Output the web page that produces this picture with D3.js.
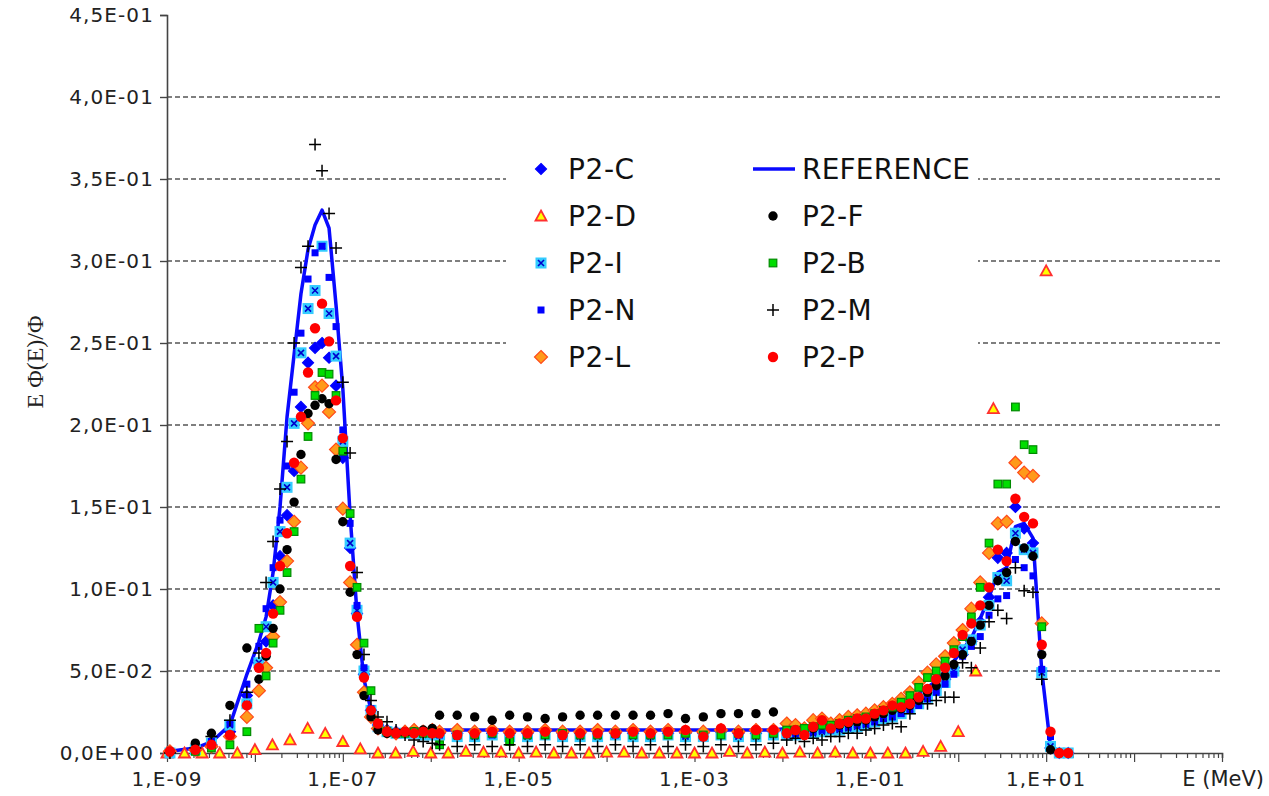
<!DOCTYPE html>
<html>
<head>
<meta charset="utf-8">
<script src="https://cdn.jsdelivr.net/npm/d3@7"></script>
<style>
  body { margin: 0; background: #fff; }
  svg { display: block; }
</style>
</head>
<body>
<svg id="chart" width="1269" height="796"></svg>
<script>
// energy grid (MeV) shared by most participants: thermal / epithermal / fast parts
var energyGrid = [
  1.08e-9, 2.1e-9, 3.2e-9, 5.2e-9, 8.1e-9, 1.11e-8, 1.34e-8, 1.61e-8, 1.93e-8, 2.32e-8,
  2.79e-8, 3.34e-8, 4.02e-8, 4.83e-8, 5.80e-8, 6.97e-8, 8.37e-8, 1.0e-7, 1.21e-7, 1.45e-7,
  1.74e-7, 2.09e-7, 2.51e-7, 3.18e-7, 4.03e-7, 5.1e-7, 6.46e-7, 8.2e-7, 1.04e-6,
  1.26e-6, 2.0e-6, 3.16e-6, 5.0e-6, 7.9e-6, 1.26e-5, 2.0e-5, 3.16e-5, 5.0e-5, 7.9e-5,
  1.26e-4, 2.0e-4, 3.16e-4, 5.0e-4, 7.9e-4, 1.26e-3, 2.0e-3, 3.16e-3, 5.0e-3, 7.9e-3,
  1.12e-2, 1.41e-2, 1.78e-2, 2.24e-2, 2.82e-2, 3.55e-2, 4.47e-2, 5.62e-2, 7.08e-2, 8.91e-2,
  0.112, 0.141, 0.178, 0.224, 0.282, 0.355, 0.447, 0.562, 0.708, 0.891,
  1.12, 1.41, 1.78, 2.24, 2.82, 3.55, 4.47, 5.62, 7.08, 8.91, 11.2, 14.1, 17.8
];
// coarser grid used by P2-D
var energyGridD = [
  1.0e-9, 1.58e-9, 2.51e-9, 3.98e-9, 6.31e-9, 1.0e-8, 1.58e-8, 2.51e-8, 3.98e-8, 6.31e-8,
  1.0e-7, 1.58e-7, 2.51e-7, 3.98e-7, 6.31e-7, 1.0e-6, 1.58e-6, 2.51e-6, 3.98e-6, 6.31e-6,
  1.0e-5, 1.58e-5, 2.51e-5, 3.98e-5, 6.31e-5, 1.0e-4, 1.58e-4, 2.51e-4, 3.98e-4, 6.31e-4,
  1.0e-3, 1.58e-3, 2.51e-3, 3.98e-3, 6.31e-3, 1.0e-2, 1.58e-2, 2.51e-2, 3.98e-2, 6.31e-2,
  0.1, 0.158, 0.251, 0.398, 0.631, 1.0, 1.58, 2.51, 3.98, 6.31, 10.0
];

var valuesRef = [
  0.001, 0.003, 0.0067, 0.017, 0.048, 0.068, 0.083, 0.11, 0.15, 0.205, 0.243, 0.28, 0.307, 0.322, 0.331,
  0.32, 0.273, 0.222, 0.145, 0.085, 0.045, 0.026, 0.018, 0.014, 0.0135, 0.0135, 0.014, 0.014, 0.014,
  0.014, 0.014, 0.014, 0.014, 0.014, 0.014, 0.014, 0.014, 0.014, 0.014,
  0.014, 0.014, 0.014, 0.014, 0.014, 0.014, 0.014, 0.014, 0.014, 0.014,
  0.015, 0.015, 0.016, 0.016, 0.017, 0.018, 0.019, 0.02, 0.021, 0.022, 0.024, 0.026, 0.028, 0.03, 0.033,
  0.036, 0.04, 0.044, 0.05, 0.056, 0.063, 0.07, 0.082, 0.095, 0.11, 0.113, 0.138, 0.14, 0.131, 0.05,
  0.004, 0, null
];
var valuesC = [
  0.001, 0.002, 0.005, 0.013, 0.035, 0.055, 0.068, 0.09, 0.12, 0.145, 0.172, 0.211, 0.238, 0.247, 0.25,
  0.241, 0.224, 0.18, 0.125, 0.085, 0.048, 0.026, 0.017, 0.014, 0.013, 0.013, 0.013, 0.012, 0.013,
  0.012, 0.012, 0.013, 0.012, 0.012, 0.012, 0.013, 0.012, 0.012, 0.013,
  0.012, 0.012, 0.013, 0.012, 0.012, 0.012, 0.013, 0.012, 0.012, 0.013,
  0.013, 0.013, 0.014, 0.014, 0.015, 0.016, 0.017, 0.018, 0.019, 0.02, 0.021, 0.023, 0.025, 0.027, 0.029,
  0.032, 0.036, 0.04, 0.045, 0.052, 0.06, 0.068, 0.08, 0.095, 0.119, 0.122, 0.15, 0.137, 0.128, 0.05,
  0.003, 0, 0
];
var valuesD = [
  0, 0, 0, 0, 0, 0.002, 0.005, 0.008, 0.015, 0.012,
  0.007, 0.0025, 0, 0, 0.001, 0, 0, 0.001, 0.0005, 0.0005,
  0, 0.0005, 0, 0, 0, 0.0005, 0.0005, 0, 0, 0,
  0, 0, 0.001, 0, 0.0005, 0, 0.0005, 0, 0.0005, 0,
  0, 0, 0, 0.001, 0.004, 0.013, 0.05, 0.21, null, null, 0.294
];
var valuesI = [
  0.0, 0.002, 0.006, 0.017, 0.03, 0.055, 0.077, 0.104, 0.135, 0.162, 0.201, 0.244, 0.271, 0.282, 0.309,
  0.268, 0.242, 0.19, 0.128, 0.087, 0.05, 0.026, 0.016, 0.013, 0.012, 0.012, 0.012, 0.011, 0.011,
  0.011, 0.010, 0.010, 0.011, 0.010, 0.010, 0.011, 0.010, 0.010, 0.010,
  0.011, 0.010, 0.010, 0.011, 0.010, 0.010, 0.011, 0.010, 0.010, 0.011,
  0.011, 0.011, 0.012, 0.012, 0.013, 0.014, 0.014, 0.015, 0.016, 0.017, 0.019, 0.021, 0.022, 0.024, 0.027,
  0.03, 0.034, 0.038, 0.043, 0.05, 0.063, 0.069, 0.078, 0.09, 0.107, 0.105, 0.134, 0.124, 0.122, 0.049,
  0.004, 0.0, 0.0
];
var valuesN = [
  0.001, 0.003, 0.007, 0.018, 0.042, 0.065, 0.088, 0.113, 0.142, 0.175, 0.22, 0.256, 0.289, 0.305, 0.309,
  0.29, 0.26, 0.197, 0.14, 0.09, 0.052, 0.027, 0.017, 0.014, 0.013, 0.013, 0.012, 0.012, 0.012,
  0.011, 0.011, 0.012, 0.011, 0.011, 0.012, 0.011, 0.011, 0.011, 0.012,
  0.011, 0.011, 0.012, 0.011, 0.011, 0.011, 0.012, 0.011, 0.011, 0.012,
  0.012, 0.012, 0.013, 0.013, 0.014, 0.014, 0.015, 0.016, 0.017, 0.018, 0.019, 0.021, 0.022, 0.024, 0.026,
  0.029, 0.033, 0.037, 0.042, 0.048, 0.059, 0.065, 0.071, 0.084, 0.094, 0.096, 0.118, 0.113, 0.108, 0.051,
  0.01, 0.0, null
];
var valuesL = [
  0.001, 0.002, 0.004, 0.01, 0.022, 0.038, 0.052, 0.071, 0.092, 0.117, 0.141, 0.174, 0.201, 0.223, 0.224,
  0.208, 0.185, 0.149, 0.104, 0.066, 0.037, 0.022, 0.015, 0.013, 0.012, 0.013, 0.014, 0.013, 0.014,
  0.013, 0.014, 0.013, 0.014, 0.013, 0.013, 0.014, 0.013, 0.013, 0.014,
  0.013, 0.014, 0.013, 0.014, 0.013, 0.013, 0.014, 0.013, 0.014, 0.014,
  0.018, 0.017, 0.015, 0.02, 0.021, 0.018, 0.02, 0.022, 0.023, 0.024, 0.026, 0.028, 0.03, 0.033, 0.037,
  0.043, 0.049, 0.054, 0.059, 0.067, 0.075, 0.088, 0.104, 0.122, 0.14, 0.141, 0.177, 0.171, 0.169, 0.079,
  null, null, null
];
var valuesF = [
  0.001, 0.006, 0.012, 0.029, 0.064, 0.045, 0.059, 0.076, 0.1, 0.124, 0.153, 0.182, 0.207, 0.212, 0.216,
  0.213, 0.179, 0.141, 0.098, 0.06, 0.035, 0.022, 0.014, 0.012, 0.012, 0.013, 0.013, 0.014, 0.015,
  0.023, 0.023, 0.022, 0.020, 0.023, 0.022, 0.021, 0.022, 0.023, 0.023,
  0.023, 0.023, 0.023, 0.024, 0.021, 0.022, 0.024, 0.024, 0.024, 0.025,
  0.013, 0.014, 0.012, 0.015, 0.017, 0.015, 0.017, 0.018, 0.019, 0.02, 0.022, 0.024, 0.026, 0.027, 0.029,
  0.032, 0.037, 0.041, 0.047, 0.054, 0.06, 0.068, 0.078, 0.09, 0.105, 0.11, 0.129, 0.125, 0.12, 0.06,
  0.002, 0, null
];
var valuesB = [
  null, 0.001, 0.003, 0.005, 0.013, 0.076, 0.047, 0.067, 0.087, 0.11, 0.135, 0.167, 0.193, 0.218, 0.232,
  0.231, 0.218, 0.184, 0.146, 0.101, 0.067, 0.038, 0.018, 0.013, 0.012, 0.012, 0.013, 0.012, 0.012,
  0.005, 0.011, 0.011, 0.012, 0.007, 0.011, 0.011, 0.012, 0.011, 0.011,
  0.012, 0.011, 0.011, 0.011, 0.012, 0.011, 0.011, 0.012, 0.011, 0.012,
  0.014, 0.014, 0.015, 0.016, 0.017, 0.017, 0.018, 0.02, 0.021, 0.022, 0.024, 0.026, 0.028, 0.031, 0.035,
  0.04, 0.046, 0.05, 0.056, 0.063, 0.071, 0.083, 0.101, 0.128, 0.164, 0.164, 0.211, 0.188, 0.185, 0.077,
  null, null, null
];
var valuesM = [
  0.0, 0.003, 0.01, 0.02, 0.037, 0.061, 0.104, 0.129, 0.161, 0.19, 0.25, 0.296, 0.309, 0.371, 0.355,
  0.329, 0.308, 0.226, 0.183, 0.11, 0.06, 0.032, 0.022, 0.019, 0.014, 0.011, 0.008, 0.007, 0.006,
  0.005, 0.004, 0.005, 0.004, 0.005, 0.004, 0.005, 0.004, 0.005, 0.004,
  0.005, 0.004, 0.005, 0.004, 0.005, 0.004, 0.005, 0.004, 0.005, 0.006,
  0.008, 0.009, 0.007, 0.009, 0.008, 0.01, 0.01, 0.012, 0.012, 0.014, 0.015, 0.017, 0.018, 0.016, 0.024,
  0.033, 0.03, 0.032, 0.034, 0.034, 0.055, 0.052, 0.064, 0.08, 0.087, 0.082, 0.113, 0.099, 0.098, 0.045,
  null, null, null
];
var valuesP = [
  0.001, 0.002, 0.005, 0.011, 0.029, 0.052, 0.061, 0.085, 0.114, 0.134, 0.177, 0.205, 0.232, 0.259, 0.274,
  0.251, 0.215, 0.192, 0.114, 0.083, 0.046, 0.026, 0.018, 0.013, 0.012, 0.013, 0.012, 0.013, 0.012,
  0.012, 0.011, 0.012, 0.013, 0.012, 0.012, 0.013, 0.011, 0.012, 0.012,
  0.012, 0.013, 0.012, 0.013, 0.014, 0.010, 0.015, 0.012, 0.014, 0.014,
  0.012, 0.014, 0.011, 0.016, 0.02, 0.015, 0.018, 0.019, 0.021, 0.021, 0.024, 0.026, 0.029, 0.028, 0.03,
  0.034, 0.039, 0.045, 0.052, 0.061, 0.072, 0.079, 0.09, 0.101, 0.124, 0.117, 0.155, 0.144, 0.14, 0.066,
  0.013, 0.0, 0.0
];

var yTicks = [0, 0.05, 0.1, 0.15, 0.2, 0.25, 0.3, 0.35, 0.4, 0.45];
var yTickLabels = ["0,0E+00", "5,0E-02", "1,0E-01", "1,5E-01", "2,0E-01", "2,5E-01", "3,0E-01", "3,5E-01", "4,0E-01", "4,5E-01"];
var xLabelTicks = [1e-9, 1e-7, 1e-5, 1e-3, 1e-1, 1e1];
var xTickLabels = ["1,E-09", "1,E-07", "1,E-05", "1,E-03", "1,E-01", "1,E+01"];

var svg = d3.select("#chart");
var MARGIN = {left: 167, right: 47, top: 15, bottom: 43};
var W = 1269, H = 796;

var x = d3.scaleLog().domain([1e-9, 1e3]).range([MARGIN.left, W - MARGIN.right]);
var y = d3.scaleLinear().domain([0, 0.45]).range([H - MARGIN.bottom, MARGIN.top]);

var FONT = "'DejaVu Sans', Verdana, sans-serif";

// grid lines
svg.append("g").selectAll("line")
  .data(yTicks.filter(function(d){ return d > 0 && d < 0.45; }))
  .enter().append("line")
  .attr("x1", x(1e-9)).attr("x2", x(1e3))
  .attr("y1", function(d){ return y(d); }).attr("y2", function(d){ return y(d); })
  .attr("stroke", "#555").attr("stroke-width", 1.4).attr("stroke-dasharray", "5,3");

// y axis
var yAxis = d3.axisLeft(y).tickValues(yTicks).tickSize(7)
  .tickFormat(function(d, i){ return yTickLabels[i]; });
var gy = svg.append("g").attr("transform", "translate(" + MARGIN.left + ",0)").call(yAxis);
gy.select(".domain").attr("stroke", "#444").attr("stroke-width", 1.6);
gy.selectAll(".tick line").attr("stroke", "#444").attr("stroke-width", 1.4);
gy.selectAll(".tick text").attr("font-family", FONT).attr("font-size", 20)
  .attr("letter-spacing", 1.1).attr("fill", "#222").attr("x", -13);

// x axis: minor ticks every 1..9 per decade
var minorTicks = [];
x.ticks(120).forEach(function(t){ minorTicks.push(t); });
var xAxis = d3.axisBottom(x).tickValues(minorTicks).tickSize(5).tickFormat("");
var gx = svg.append("g").attr("transform", "translate(0," + y(0) + ")").call(xAxis);
gx.select(".domain").attr("stroke", "#444").attr("stroke-width", 1.6);
gx.selectAll(".tick line").attr("stroke", "#444").attr("stroke-width", 1.2)
  .attr("y2", function(d){ var l = Math.log10(d); return Math.abs(l - Math.round(l)) < 1e-6 ? 9 : 5; });

svg.append("g").selectAll("text").data(xLabelTicks).enter().append("text")
  .attr("x", function(d){ return x(d); }).attr("y", 786)
  .attr("text-anchor", "middle").attr("font-family", FONT).attr("font-size", 20)
  .attr("letter-spacing", 1.1).attr("fill", "#222")
  .text(function(d, i){ return xTickLabels[i]; });

svg.append("text").attr("x", 1264).attr("y", 786).attr("text-anchor", "end")
  .attr("font-family", FONT).attr("font-size", 21).attr("fill", "#222").text("E (MeV)");

svg.append("text").attr("transform", "translate(43,362) rotate(-90)")
  .attr("text-anchor", "middle").attr("font-family", "'Liberation Serif', 'DejaVu Serif', serif")
  .attr("font-size", 24).attr("fill", "#222").text("E \u03A6(E)/\u03A6");

// legend background (hides gridlines)
svg.append("rect").attr("x", 506).attr("y", 137).attr("width", 472).attr("height", 238).attr("fill", "#fff");

// marker painters
function diamond(g, s, fill, stroke){
  g.append("path").attr("d", "M0," + (-s) + "L" + s + ",0L0," + s + "L" + (-s) + ",0Z")
    .attr("fill", fill).attr("stroke", stroke).attr("stroke-width", 1.2);
}
var markers = {
  C: function(g){ diamond(g, 5.5, "#0000ff", "#0000ff"); },
  D: function(g){ g.append("path").attr("d", "M0,-5.5L5.5,4.5L-5.5,4.5Z")
        .attr("fill", "#ffff00").attr("stroke", "#ff3030").attr("stroke-width", 1.8); },
  I: function(g){ g.append("rect").attr("x", -5.5).attr("y", -5.5).attr("width", 11).attr("height", 11).attr("fill", "#33ccff");
        g.append("path").attr("d", "M-3,-3L3,3M3,-3L-3,3").attr("stroke", "#0000cc").attr("stroke-width", 1.6); },
  N: function(g){ g.append("rect").attr("x", -3.5).attr("y", -3.5).attr("width", 7).attr("height", 7).attr("fill", "#0000ff"); },
  L: function(g){ diamond(g, 6.5, "#ff9a1a", "#ff4a1a"); },
  F: function(g){ g.append("circle").attr("r", 4.7).attr("fill", "#000"); },
  B: function(g){ g.append("rect").attr("x", -3.8).attr("y", -3.8).attr("width", 7.6).attr("height", 7.6)
        .attr("fill", "#00dd00").attr("stroke", "#008a00").attr("stroke-width", 1.2); },
  M: function(g){ g.append("path").attr("d", "M-6,0L6,0M0,-6L0,6").attr("stroke", "#000").attr("stroke-width", 1.5); },
  P: function(g){ g.append("circle").attr("r", 5.2).attr("fill", "#ff0000"); }
};

// reference curve
var refPts = energyGrid.map(function(e, i){ return [e, valuesRef[i]]; }).filter(function(p){ return p[1] != null; });
svg.append("path").datum(refPts)
  .attr("d", d3.line().x(function(p){ return x(p[0]); }).y(function(p){ return y(p[1]); }))
  .attr("fill", "none").attr("stroke", "#0a0aff").attr("stroke-width", 3.5).attr("stroke-linejoin", "round");

var seriesList = [
  {key: "C", energies: energyGrid, values: valuesC},
  {key: "D", energies: energyGridD, values: valuesD},
  {key: "I", energies: energyGrid, values: valuesI},
  {key: "N", energies: energyGrid, values: valuesN},
  {key: "L", energies: energyGrid, values: valuesL},
  {key: "F", energies: energyGrid, values: valuesF},
  {key: "B", energies: energyGrid, values: valuesB},
  {key: "M", energies: energyGrid, values: valuesM},
  {key: "P", energies: energyGrid, values: valuesP}
];

seriesList.forEach(function(s){
  var pts = s.energies.map(function(e, i){ return [e, s.values[i]]; }).filter(function(p){ return p[1] != null; });
  svg.append("g").selectAll("g").data(pts).enter().append("g")
    .attr("transform", function(p){ return "translate(" + x(p[0]) + "," + y(p[1]) + ")"; })
    .each(function(){ markers[s.key](d3.select(this)); });
});

// legend
var legendLeft = [["C", "P2-C"], ["D", "P2-D"], ["I", "P2-I"], ["N", "P2-N"], ["L", "P2-L"]];
var legendRight = [["REF", "REFERENCE"], ["F", "P2-F"], ["B", "P2-B"], ["M", "P2-M"], ["P", "P2-P"]];
var rowY = [169, 216, 263, 310, 357];
var lg = svg.append("g");
legendLeft.forEach(function(d, i){
  markers[d[0]](lg.append("g").attr("transform", "translate(541," + rowY[i] + ")"));
  lg.append("text").attr("x", 568).attr("y", rowY[i]).attr("dy", "0.36em")
    .attr("font-family", FONT).attr("font-size", 28).attr("letter-spacing", 0.6).attr("fill", "#111").text(d[1]);
});
legendRight.forEach(function(d, i){
  if (d[0] === "REF") {
    lg.append("line").attr("x1", 753).attr("x2", 795).attr("y1", rowY[i]).attr("y2", rowY[i])
      .attr("stroke", "#0a0aff").attr("stroke-width", 3.5);
  } else {
    markers[d[0]](lg.append("g").attr("transform", "translate(773," + rowY[i] + ")"));
  }
  lg.append("text").attr("x", 802).attr("y", rowY[i]).attr("dy", "0.36em")
    .attr("font-family", FONT).attr("font-size", 28).attr("letter-spacing", 0.2).attr("fill", "#111").text(d[1]);
});
</script>
</body>
</html>
